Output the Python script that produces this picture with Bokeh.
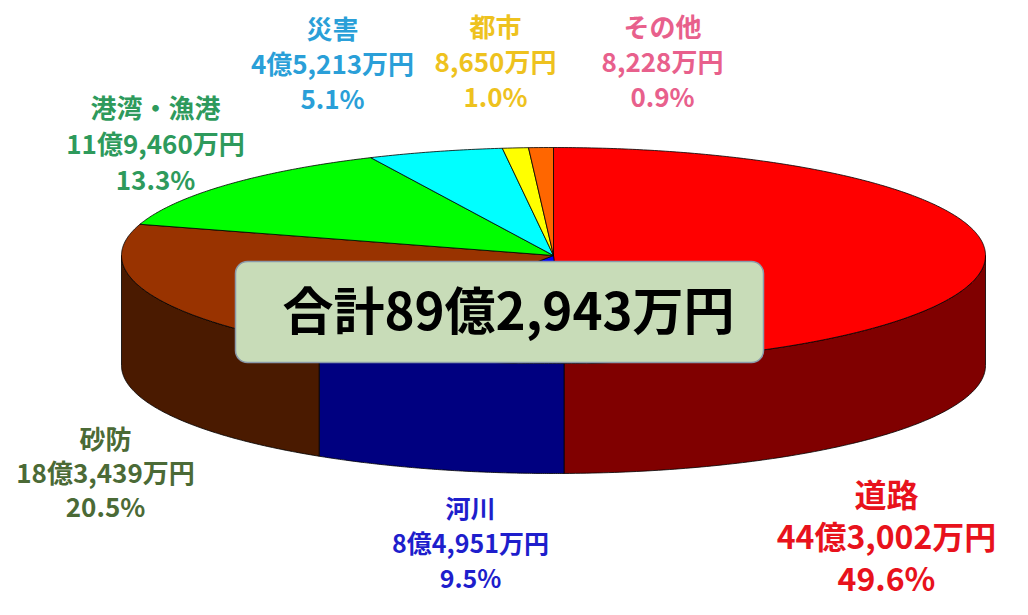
import numpy as np
from bokeh.plotting import figure
from bokeh.models import Range1d, ColumnDataSource
from bokeh.core.properties import value
from bokeh.embed import file_html
from bokeh.resources import INLINE

# ---- data ----
categories = ["道路", "河川", "砂防", "港湾・漁港", "災害", "都市", "その他"]
amounts = [443002, 84951, 183439, 119460, 45213, 8650, 8228]   # 万円
percents = ["49.6%", "9.5%", "20.5%", "13.3%", "5.1%", "1.0%", "0.9%"]

# ---- styles ----
top_colors = ["#FF0000", "#0000FF", "#993300", "#00FF00", "#00FFFF", "#FFFF00", "#FF6600"]
side_colors = ["#800000", "#000080", "#4A1A00", "#008000", "#008080", "#808000", "#803300"]
label_colors = ["#E8121C", "#1E1ECC", "#4B6A36", "#2E9A5C", "#2A9FD8", "#EEC21E", "#E8608C"]
label_x = [886, 470, 105, 155, 332, 495, 662]
label_y = [492, 506, 437, 106, 27, 25, 25]
label_gap = [42, 35, 34, 36, 35, 35, 35]
label_size = [32, 25, 26, 26, 26, 26, 26]

cx, cy, rx, ry, depth = 553.0, 255.0, 432.0, 108.0, 110.0
FONT = "Noto Sans CJK JP"


def fmt_amount(a):
    oku, man = divmod(a, 10000)
    return f"{oku}億{man:,}万円" if oku else f"{man:,}万円"


total = sum(amounts)
total_label = "合計" + fmt_amount(total)

p = figure(width=1012, height=599, output_backend="svg", toolbar_location=None,
           x_range=Range1d(0, 1012), y_range=Range1d(599, 0), min_border=0)
p.axis.visible = False
p.grid.visible = False
p.outline_line_color = None
p.background_fill_color = "white"

cum = np.concatenate([[0.0], np.cumsum(amounts) / total * 360.0])


def ex(t):
    return cx + rx * np.sin(np.radians(t))


def ey(t):
    return cy - ry * np.cos(np.radians(t))


wall_xs, wall_ys, wall_c = [], [], []
top_xs, top_ys, top_c = [], [], []
for i in range(len(amounts)):
    a0, a1 = cum[i], cum[i + 1]
    t0, t1 = max(a0, 90.0), min(a1, 270.0)
    if t1 > t0:
        ts = np.linspace(t0, t1, 120)
        xs = np.concatenate([ex(ts), ex(ts[::-1])])
        ys = np.concatenate([ey(ts), ey(ts[::-1]) + depth])
        wall_xs.append(list(xs)); wall_ys.append(list(ys)); wall_c.append(side_colors[i])
    ts = np.linspace(a0, a1, max(int((a1 - a0) * 2), 4))
    top_xs.append([cx] + list(ex(ts))); top_ys.append([cy] + list(ey(ts))); top_c.append(top_colors[i])

p.patches("xs", "ys", fill_color="c", line_color="black", line_width=1, line_alpha=0.8,
          source=ColumnDataSource(dict(xs=wall_xs, ys=wall_ys, c=wall_c)))
p.patches("xs", "ys", fill_color="c", line_color="black", line_width=1, line_alpha=0.8,
          source=ColumnDataSource(dict(xs=top_xs, ys=top_ys, c=top_c)))

# total box
p.quad(left=235, right=763, top=261, bottom=362, fill_color="#C8DCB8",
       line_color="#8A9AAA", line_width=1.5, border_radius=12)
p.text(x=[508], y=[307], text=[total_label], text_font=value(FONT), text_font_style="bold",
       text_font_size="51px", text_color="black", text_align="center", text_baseline="middle")

# labels
tx, ty, tt, tc, ts_ = [], [], [], [], []
for i, name in enumerate(categories):
    for k, s in enumerate([name, fmt_amount(amounts[i]), percents[i]]):
        tx.append(label_x[i]); ty.append(label_y[i] + k * label_gap[i]); tt.append(s)
        tc.append(label_colors[i]); ts_.append(f"{label_size[i]}px")
p.text(x="x", y="y", text="t", text_color="c", text_font_size="s", text_font=value(FONT),
       text_font_style="bold", text_align="center", text_baseline="middle",
       source=ColumnDataSource(dict(x=tx, y=ty, t=tt, c=tc, s=ts_)))

open("out.html", "w").write(file_html(p, INLINE))
